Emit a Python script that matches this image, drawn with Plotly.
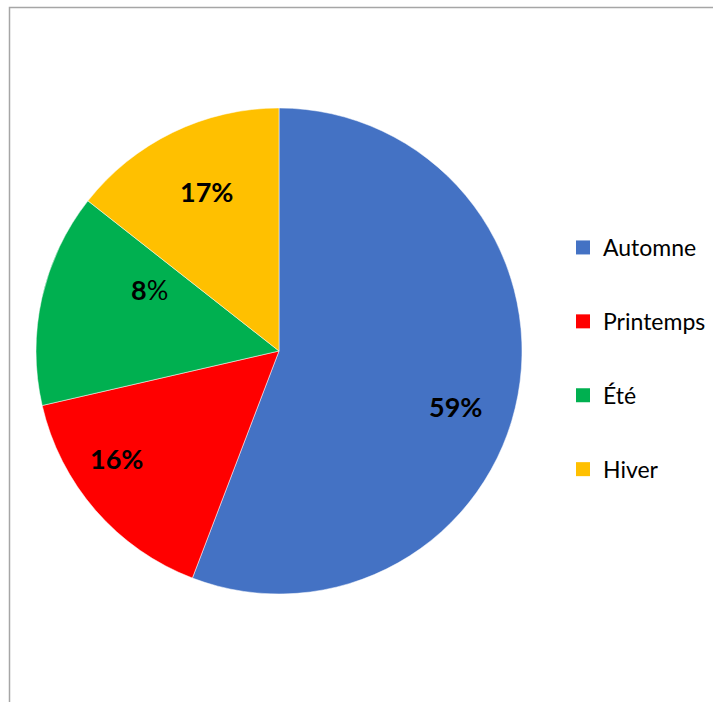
import math
import plotly.graph_objects as go

# Data
categories = ["Automne", "Printemps", "Été", "Hiver"]
values = [55.8, 15.6, 14.2, 14.4]
label_texts = ["<b>59%</b>", "<b>16%</b>", "<b>8</b>%", "<b>17%</b>"]
colors = ["#4472C4", "#FF0000", "#00B050", "#FFC000"]
# label placement: (angle clockwise from 12 o'clock in degrees, fraction of radius)
label_polar = [(107.4, 0.76), (236.5, 0.80), (295.3, 0.59), (335.6, 0.72)]

W, H = 713, 702
cx, cy, r = 279, 351, 243

fig = go.Figure()
fig.add_trace(go.Pie(
    labels=categories,
    values=values,
    textinfo="none",
    marker=dict(colors=colors, line=dict(color="white", width=0.5)),
    sort=False,
    direction="clockwise",
    rotation=0,
    showlegend=False,
    hoverinfo="label+percent",
    domain=dict(x=[(cx - r) / W, (cx + r) / W],
                y=[(H - cy - r) / H, (H - cy + r) / H]),
))

# data labels
for txt, (ang, frac) in zip(label_texts, label_polar):
    a = math.radians(ang)
    px = cx + frac * r * math.sin(a)
    py = cy - frac * r * math.cos(a)
    fig.add_annotation(
        x=px / W, y=(H - py) / H, xref="paper", yref="paper",
        text=txt, showarrow=False, xanchor="center", yanchor="middle",
        font=dict(family="Lato", size=27, color="black"),
    )

# legend entries (square markers) with spacing
for name, col in zip(categories, colors):
    fig.add_trace(go.Scatter(
        x=[None], y=[None], mode="markers", name=name,
        legendgroup=name,
        marker=dict(symbol="square", size=14, color=col),
        hoverinfo="skip",
    ))

fig.update_layout(
    width=W, height=H,
    margin=dict(l=0, r=0, t=0, b=0),
    paper_bgcolor="white",
    plot_bgcolor="white",
    xaxis=dict(visible=False),
    yaxis=dict(visible=False),
    legend=dict(
        x=563 / W, y=(H - 226) / H, xanchor="left", yanchor="top",
        font=dict(family="Lato", size=23, color="black"),
        tracegroupgap=41,
        itemsizing="trace",
        bgcolor="rgba(0,0,0,0)",
    ),
    shapes=[dict(
        type="rect", xref="paper", yref="paper",
        x0=9.5 / W, x1=1.2, y0=-0.2, y1=(H - 7.5) / H,
        line=dict(color="#A6A6A6", width=1.5), fillcolor="rgba(0,0,0,0)",
        layer="below",
    )],
)

fig.write_html("out.html")
